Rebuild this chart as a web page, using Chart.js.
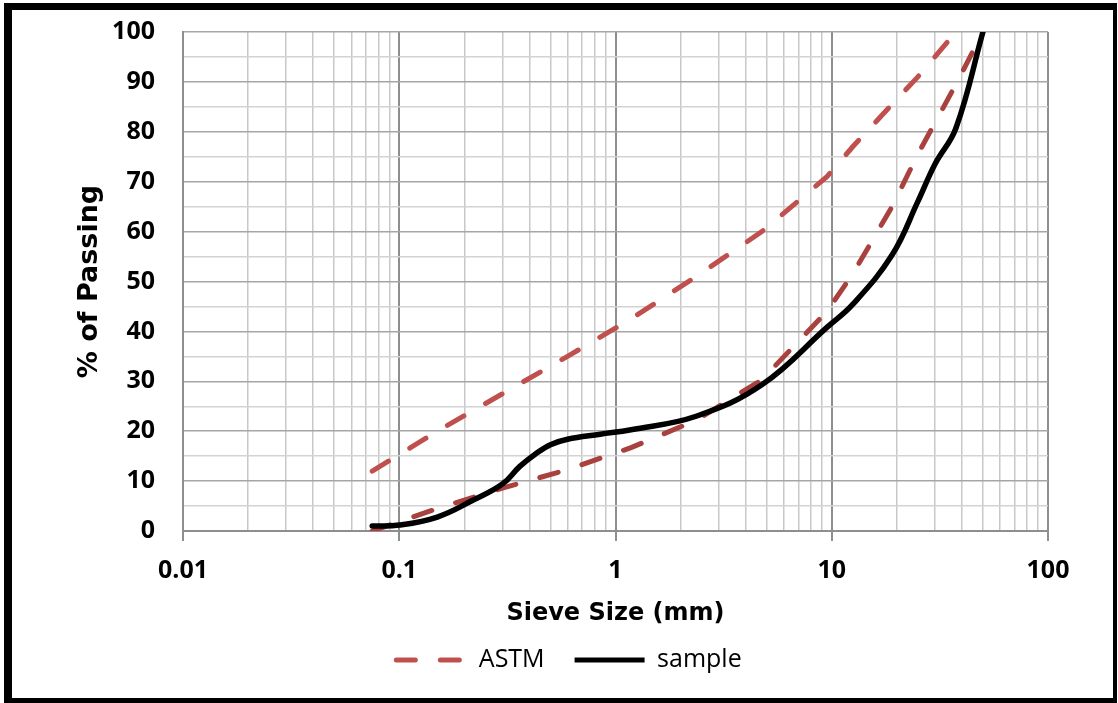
<!DOCTYPE html>
<html>
<head>
<meta charset="utf-8">
<title>Gradation curve</title>
<script src="https://cdn.jsdelivr.net/npm/chart.js@4.4.1/dist/chart.umd.min.js"></script>
<style>
  html, body { margin: 0; padding: 0; background: #fff; }
  #wrap { position: relative; width: 1118px; height: 703px; overflow: hidden; }
  #gradationChart { position: absolute; left: 0; top: 0; }
  #frame {
    position: absolute; left: 4px; top: 3px; width: 1113px; height: 700px;
    box-sizing: border-box; border-style: solid; border-color: #000;
    border-width: 7px 4px 5px 8px; pointer-events: none;
  }
</style>
</head>
<body>
<div id="wrap">
  <canvas id="gradationChart" width="1118" height="703"></canvas>
  <div id="frame"></div>
</div>
<script>
// sieve sizes (mm) and % passing
const astmUpperSize = [0.075, 0.15, 0.3, 0.6, 1.18, 2.36, 4.75, 9.5, 12.5, 19, 25, 37.5];
const astmUpperPass = [12, 20, 27.5, 35, 42.5, 51, 60, 71, 77, 85.5, 91, 100];

const astmLowerSize = [0.075, 0.15, 0.3, 0.6, 1.18, 2.36, 4.75, 9.5, 12.5, 19, 25, 37.5, 50];
const astmLowerPass = [0, 4.5, 8.6, 12.3, 16.7, 22.2, 30.3, 44, 51.5, 65, 75.5, 89.5, 100];

const sampleSize = [0.075, 0.1, 0.15, 0.22, 0.3, 0.36, 0.425, 0.5, 0.6, 0.85, 1.18, 2.36, 4.75, 9.5, 12.5, 19, 25, 30, 37.5, 50];
const samplePass = [1, 1.2, 2.8, 6.2, 9.4, 12.9, 15.4, 17.3, 18.4, 19.4, 20.3, 23, 29.3, 40.8, 45.4, 55.3, 66, 73.5, 80.7, 100];

// axis ticks
const xDecades = [0.01, 0.1, 1, 10, 100];
const xTickLabels = ['0.01', '0.1', '1', '10', '100'];
const yTickLabels = [0, 10, 20, 30, 40, 50, 60, 70, 80, 90, 100];

const upperRed = '#c0504d';
const lowerRed = '#a9423e';

function toPoints(xs, ys) {
    return xs.map((x, i) => ({ x: x, y: ys[i] }));
}

function decadeIndex(v) {
    return xDecades.findIndex(d => Math.abs(v - d) < d * 1e-6);
}

// 1..9 in every decade for the log grid
const xGridValues = [];
xDecades.forEach((d, i) => {
    if (i === xDecades.length - 1) { xGridValues.push(d); return; }
    for (let m = 1; m <= 9; m++) xGridValues.push(Number((m * d).toPrecision(6)));
});

const tickFont = { family: 'Open Sans', weight: 'bold', size: 25 };

Chart.defaults.color = '#000';

new Chart(document.getElementById('gradationChart'), {
    type: 'line',
    data: {
        datasets: [
            {
                label: 'ASTM',
                data: toPoints(astmUpperSize, astmUpperPass),
                borderColor: upperRed,
                backgroundColor: upperRed,
                borderWidth: 5,
                borderDash: [19, 25],
                borderCapStyle: 'round',
                pointRadius: 0,
                tension: 0,
                fill: false,
                order: 2,
                xAxisID: 'x', yAxisID: 'y'
            },
            {
                label: 'ASTM (lower)',
                data: toPoints(astmLowerSize, astmLowerPass),
                borderColor: lowerRed,
                backgroundColor: lowerRed,
                borderWidth: 5,
                borderDash: [19, 25],
                borderCapStyle: 'round',
                pointRadius: 0,
                tension: 0,
                fill: false,
                order: 1,
                xAxisID: 'x', yAxisID: 'y'
            },
            {
                label: 'sample',
                data: toPoints(sampleSize, samplePass),
                borderColor: '#000',
                backgroundColor: '#000',
                borderWidth: 5.5,
                borderCapStyle: 'round',
                borderJoinStyle: 'round',
                pointRadius: 0,
                tension: 0.4,
                fill: false,
                order: 0,
                xAxisID: 'x', yAxisID: 'y'
            }
        ]
    },
    options: {
        responsive: false,
        animation: false,
        layout: { padding: { top: 32, right: 0, bottom: 20.5, left: 20 } },
        plugins: {
            tooltip: { enabled: false },
            legend: {
                position: 'bottom',
                labels: {
                    usePointStyle: true,
                    pointStyle: 'line',
                    pointStyleWidth: 70,
                    padding: 30,
                    color: '#000',
                    font: { family: 'Open Sans', size: 25 },
                    // line swatches: take dash and width from the dataset itself
                    generateLabels: chart => chart.data.datasets
                        .map((ds, i) => ({
                            text: ds.label,
                            datasetIndex: i,
                            fillStyle: ds.borderColor,
                            strokeStyle: ds.borderColor,
                            fontColor: '#000',
                            lineWidth: 5,
                            lineDash: ds.borderDash || [],
                            lineCap: ds.borderDash ? 'round' : 'butt',
                            pointStyle: 'line',
                            hidden: false
                        }))
                        .filter(item => item.datasetIndex !== 1)
                }
            }
        },
        scales: {
            x: {
                type: 'logarithmic',
                position: 'bottom',
                min: 0.01,
                max: 100,
                afterBuildTicks: scale => {
                    scale.ticks = xGridValues.map(v => ({ value: v, major: decadeIndex(v) >= 0 }));
                },
                afterFit: scale => { scale.height = 86.5; },
                ticks: {
                    autoSkip: false,
                    maxRotation: 0,
                    padding: 15,
                    font: tickFont,
                    color: '#000',
                    callback: v => {
                        const i = decadeIndex(v);
                        return i >= 0 ? xTickLabels[i] : '';
                    }
                },
                grid: {
                    color: c => decadeIndex(c.tick.value) >= 0 ? '#8e8e8e' : '#c8c8c8',
                    lineWidth: c => decadeIndex(c.tick.value) >= 0 ? 2 : 1.5,
                    tickLength: 10,
                    tickColor: c => decadeIndex(c.tick.value) >= 0 ? '#8e8e8e' : 'rgba(0,0,0,0)'
                },
                border: { color: '#8e8e8e', width: 2 },
                title: {
                    display: true,
                    text: 'Sieve Size (mm)',
                    color: '#000',
                    font: { family: 'DejaVu Sans', weight: 'bold', size: 24 },
                    padding: { top: 0, bottom: -11 }
                }
            },
            y: {
                position: 'left',
                min: 0,
                max: 100,
                afterFit: scale => {
                    scale.width = 163;
                    // the label padding is horizontal only, do not let it push the top down
                    scale.paddingTop = 15;
                    scale.paddingBottom = 15;
                },
                ticks: {
                    stepSize: 5,
                    autoSkip: false,
                    padding: 28,
                    font: tickFont,
                    color: '#000',
                    callback: v => yTickLabels.includes(v) ? String(v) : ''
                },
                grid: {
                    drawTicks: false,
                    color: c => c.tick.value % 10 === 0 ? '#a6a6a6' : '#d3d3d3',
                    lineWidth: 1.5
                },
                border: { color: '#8e8e8e', width: 2 },
                title: {
                    display: true,
                    text: '% of Passing',
                    color: '#000',
                    font: { family: 'DejaVu Sans', weight: 'bold', size: 27 },
                    padding: { top: 54, bottom: 0 }
                }
            },
            // empty axis only to keep room on the right side
            yRight: {
                position: 'right',
                min: 0,
                max: 100,
                afterFit: scale => { scale.width = 70; },
                grid: { display: false },
                border: { display: false },
                ticks: { display: false }
            }
        }
    }
});
</script>
</body>
</html>
